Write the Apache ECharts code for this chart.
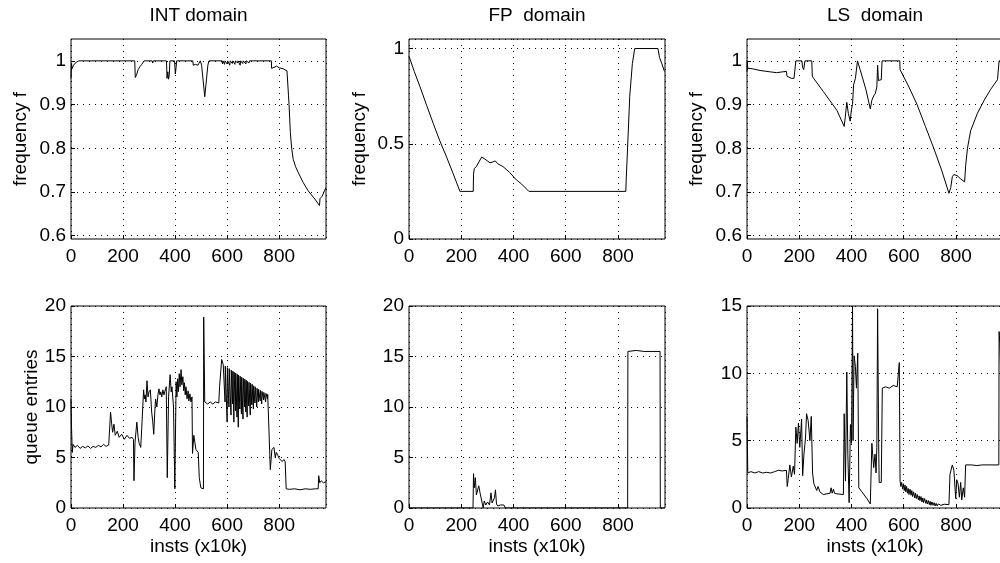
<!DOCTYPE html>
<html>
<head>
<meta charset="utf-8">
<script src="https://cdn.jsdelivr.net/npm/echarts@6/dist/echarts.min.js"></script>
<style>
html,body{margin:0;padding:0;background:#fff;}
#c{width:1000px;height:563px;}
</style>
</head>
<body>
<div id="c"></div>
<script>
// ---------- titles / labels ----------
const panelTitles = ['INT domain', 'FP  domain', 'LS  domain'];
const freqName = 'frequency f';
const queueName = 'queue entries';
const xName = 'insts (x10k)';
const freqTicksA = [0.6, 0.7, 0.8, 0.9, 1];

// ---------- data: [insts (x10k), value] ----------
const intFreq = [[0,0.96],[2,0.995],[4,0.982],[10,0.99],[20,0.997],[30,1.0],[245,1.0],[247,0.962],[252,0.968],[258,0.98],[265,0.987],[272,0.992],[281,1.0],[300,1.0],[302,0.996],[304,1.0],[312,1.0],[314,0.995],[316,1.0],[330,1.0],[332,0.996],[334,1.0],[367,1.0],[369,0.96],[372,0.975],[375,0.958],[378,0.97],[380,1.0],[398,1.0],[401,0.97],[404,0.985],[406,1.0],[468,1.0],[470,0.99],[478,0.992],[485,0.993],[488,0.99],[492,0.995],[497,1.0],[502,0.99],[514,0.918],[526,0.99],[530,1.0],[580,1.0],[582,0.993],[584,1.0],[590,0.992],[592,1.0],[600,0.993],[602,1.0],[610,0.99],[612,1.0],[620,0.994],[622,1.0],[630,0.992],[632,1.0],[640,0.995],[642,1.0],[650,0.99],[652,1.0],[660,0.994],[662,1.0],[672,0.993],[674,1.0],[684,0.995],[686,1.0],[700,1.0],[770,1.0],[771,0.983],[780,0.985],[790,0.988],[800,0.984],[815,0.982],[830,0.977],[834,0.975],[836,0.92],[838,0.90],[843,0.836],[848,0.80],[854,0.775],[863,0.758],[873,0.745],[892,0.722],[911,0.703],[937,0.684],[955,0.669],[957,0.685],[965,0.69],[972,0.70],[980,0.71]];

const fpFreq = [[0,0.96],[20,0.88],[42,0.80],[68,0.70],[93,0.606],[118,0.515],[144,0.43],[169,0.343],[195,0.25],[246,0.25],[247,0.34],[250,0.37],[258,0.38],[265,0.39],[272,0.415],[278,0.43],[290,0.42],[300,0.41],[310,0.40],[316,0.41],[322,0.405],[330,0.41],[340,0.395],[360,0.38],[385,0.35],[411,0.31],[430,0.29],[459,0.25],[830,0.25],[832,0.33],[835,0.42],[845,0.75],[855,0.92],[864,1.0],[953,1.0],[959,0.953],[968,0.92],[978,0.88]];

const lsFreq = [[0,0.975],[1,1.0],[3,0.983],[20,0.982],[50,0.978],[87,0.975],[113,0.973],[151,0.976],[153,0.965],[160,0.963],[170,0.96],[180,0.96],[185,0.958],[187,1.0],[210,1.0],[213,0.985],[217,0.98],[222,1.0],[248,1.0],[250,0.965],[255,0.96],[292,0.93],[344,0.887],[372,0.85],[376,0.87],[382,0.905],[388,0.88],[395,0.862],[400,0.89],[404,0.90],[408,0.945],[415,0.96],[423,1.0],[433,0.98],[455,0.935],[472,0.89],[478,0.91],[485,0.92],[491,0.925],[497,0.94],[500,0.99],[503,0.955],[514,0.957],[517,1.0],[585,1.0],[586,0.98],[620,0.94],[651,0.9],[683,0.85],[715,0.8],[745,0.75],[773,0.697],[780,0.71],[786,0.735],[792,0.74],[805,0.737],[818,0.73],[833,0.723],[837,0.76],[844,0.80],[856,0.84],[882,0.88],[908,0.91],[933,0.935],[959,0.957],[965,1.0],[980,1.0]];

const intQueue = [[0,10.8],[2,8],[5,5.5],[8,6.3],[15,6.0],[25,6.2],[35,5.9],[45,6.1],[55,5.95],[65,6.15],[75,5.9],[85,6.1],[95,6.0],[105,6.2],[115,6.05],[125,6.3],[135,6.1],[145,6.25],[150,6.2],[152,9.5],[156,8.4],[160,7.5],[165,8.3],[170,7.2],[178,7.6],[185,7.0],[195,7.3],[205,6.8],[215,7.2],[225,6.9],[235,7.0],[240,6.8],[242,2.7],[246,6.5],[253,8.5],[258,7.0],[262,6.4],[268,6.0],[272,8.0],[279,11.7],[282,10.8],[285,11.2],[288,10.5],[292,12.6],[296,11.0],[300,11.5],[305,11.7],[310,9.5],[314,8.6],[318,7.3],[322,9.5],[325,10.8],[330,10.0],[334,11.2],[338,11.8],[342,11.2],[345,11.5],[349,11.0],[353,11.7],[357,11.2],[360,11.5],[366,12.0],[370,3.0],[375,11.0],[381,13.2],[385,11.5],[388,12.0],[394,10.0],[399,1.9],[404,12.5],[407,11.0],[410,12.8],[413,11.5],[416,13.3],[419,12.0],[423,13.7],[426,12.2],[430,13.0],[433,11.6],[436,12.4],[439,11.2],[442,12.0],[446,10.8],[450,11.6],[453,10.6],[457,11.3],[461,10.5],[465,11.0],[467,5.4],[472,7.2],[480,5.8],[489,5.5],[493,3.0],[499,2.0],[509,1.9],[510,18.9],[514,10.5],[525,10.3],[535,10.5],[545,10.3],[555,10.5],[568,10.4],[571,12.0],[579,14.7],[585,14.2],[591,14.1],[592,10.5],[593,14.05],[599,13.95],[600,8.5],[601,13.9],[606,13.85],[607,10.0],[608,13.8],[614,13.7],[615,9.2],[616,13.65],[620,13.6],[621,10.3],[622,13.55],[625,13.5],[626,8.5],[627,13.45],[631,13.4],[632,9.6],[633,13.35],[637,13.3],[638,9.0],[639,13.25],[642,13.2],[643,8.0],[644,13.15],[648,13.1],[649,9.8],[650,13.05],[654,13.0],[655,9.3],[656,12.95],[660,12.9],[661,8.8],[662,12.85],[666,12.8],[667,10.0],[668,12.75],[671,12.7],[672,9.5],[673,12.65],[676,12.6],[677,9.0],[678,12.55],[682,12.5],[683,10.1],[684,12.45],[688,12.4],[689,9.2],[690,12.35],[694,12.3],[695,10.2],[696,12.25],[700,12.2],[701,9.8],[702,12.1],[706,12.05],[707,10.4],[708,12.0],[713,11.9],[714,10.0],[715,11.85],[719,11.8],[720,10.5],[721,11.75],[726,11.7],[727,10.6],[728,11.65],[732,11.6],[733,10.3],[734,11.55],[739,11.5],[740,10.7],[741,11.45],[747,11.4],[748,10.5],[749,11.35],[754,11.3],[755,10.8],[756,11.25],[763,11.1],[766,3.8],[772,5.8],[780,6.0],[785,5.0],[789,5.5],[795,5.2],[800,4.9],[806,5.0],[812,4.6],[818,4.8],[823,4.6],[827,1.9],[840,1.85],[860,1.9],[880,1.8],[900,1.9],[920,1.85],[940,1.9],[950,1.9],[952,3.2],[956,2.5],[962,2.7],[970,2.5],[980,2.6]];

const fpQueue = [[0,0],[245,0],[247,3.4],[250,2.0],[254,3.0],[258,1.3],[267,2.2],[272,1.5],[280,0.5],[284,0],[288,0.7],[294,0.3],[301,0.6],[308,0.3],[314,1.5],[318,0.5],[327,1.0],[331,1.8],[335,0.4],[340,0.2],[350,0.3],[356,0.2],[363,0.3],[369,0],[837,0],[838,15.5],[870,15.6],[900,15.5],[930,15.5],[961,15.5],[962,0],[980,0]];

const lsQueue = [[0,6.8],[3,2.6],[15,2.7],[30,2.6],[45,2.7],[60,2.6],[75,2.65],[90,2.6],[106,2.7],[120,2.8],[135,2.75],[151,2.8],[154,1.6],[158,2.2],[164,3.2],[170,2.3],[177,3.1],[182,2.5],[187,6.0],[192,4.8],[197,6.3],[202,4.5],[209,6.6],[213,2.4],[218,4.0],[224,5.2],[228,7.0],[234,6.5],[241,5.0],[246,6.8],[251,2.6],[256,1.8],[267,1.3],[272,1.6],[279,1.2],[292,1.0],[318,1.1],[322,1.5],[326,1.1],[331,1.4],[335,1.1],[344,1.05],[369,1.0],[372,7.0],[377,2.0],[382,10.1],[386,4.0],[391,0.4],[396,6.2],[400,4.8],[404,15],[406,5],[410,11.3],[415,10.5],[419,8.9],[424,11.5],[428,1.5],[440,1.2],[459,0.7],[472,0.3],[474,0.2],[478,4.8],[485,3.0],[490,4.0],[494,2.6],[497,4.5],[500,14.8],[504,4.8],[506,1.9],[514,1.9],[518,8.9],[530,9.0],[545,8.9],[560,9.1],[575,9.0],[581,9.1],[583,10.8],[586,2.0],[589,1.6],[592,1.9],[596,1.4],[599,1.8],[602,1.3],[605,1.7],[608,1.2],[611,1.6],[614,1.1],[617,1.45],[620,1.0],[624,1.4],[628,0.95],[631,1.3],[634,0.85],[638,1.2],[642,0.75],[645,1.1],[648,0.7],[652,1.0],[656,0.6],[659,0.9],[662,0.55],[666,0.85],[670,0.45],[673,0.75],[676,0.4],[680,0.7],[684,0.35],[687,0.6],[690,0.3],[694,0.55],[698,0.25],[701,0.5],[704,0.2],[708,0.45],[712,0.2],[716,0.4],[720,0.15],[724,0.35],[728,0.15],[732,0.3],[742,0.2],[755,0.28],[773,0.25],[777,2.5],[786,3.2],[792,2.8],[799,0.7],[803,2.1],[808,1.8],[813,0.8],[818,1.9],[822,0.6],[828,1.5],[833,0.8],[837,3.2],[860,3.2],[880,3.15],[900,3.2],[930,3.2],[964,3.2],[965,13.1],[968,12.2],[972,9.7],[980,9.5]];

// ---------- layout ----------
const FONT = '"Liberation Sans", Arial, Helvetica, sans-serif';
const FS = 19;
const lefts = [71, 409, 747];
const widths = [255, 256, 256];
const tops = [39, 306];
const heights = [200, 202];

const panels = [
  {row:0, col:0, data:intFreq, ymin:0.5925, ymax:1.05, custom:freqTicksA, name:freqName, gap:41},
  {row:0, col:1, data:fpFreq,  ymin:0, ymax:1.05, interval:0.5, showMax:false, name:freqName, gap:40},
  {row:0, col:2, data:lsFreq,  ymin:0.5925, ymax:1.05, custom:freqTicksA, name:freqName, gap:41},
  {row:1, col:0, data:intQueue, ymin:0, ymax:20, interval:5, showMax:true, name:queueName, gap:29},
  {row:1, col:1, data:fpQueue,  ymin:0, ymax:20, interval:5, showMax:true, name:'', gap:29},
  {row:1, col:2, data:lsQueue,  ymin:0, ymax:15, interval:5, showMax:true, name:'', gap:29}
];

const grids = [], xAxes = [], yAxes = [], series = [], graphics = [];
const dotted = {color:'#000', width:1, type:[1,5]};
const lblStyle = {fontSize:FS, fontFamily:FONT, color:'#000'};

panels.forEach((p, i) => {
  grids.push({
    left: lefts[p.col], top: tops[p.row], width: widths[p.col], height: heights[p.row],
    show: true, borderColor: '#000', borderWidth: 1, containLabel: false, outerBoundsMode: 'none'
  });
  xAxes.push({
    type:'value', gridIndex:i, min:0, max:980, interval:200,
    axisLine:{show:false},
    axisTick:{show:true, inside:true, length:4, lineStyle:{color:'#000'}},
    axisLabel:Object.assign({margin:8, showMaxLabel:false, hideOverlap:false}, lblStyle),
    splitLine:{show:true, lineStyle:dotted},
    name: p.row === 1 ? xName : '', nameLocation:'middle', nameGap:29,
    nameTextStyle: lblStyle
  });
  const y = {
    type:'value', gridIndex:i, min:p.ymin, max:p.ymax,
    axisLine:{show:false},
    axisTick:{show:true, inside:true, length:4, lineStyle:{color:'#000'}},
    axisLabel:Object.assign({margin:5, hideOverlap:false}, lblStyle),
    splitLine:{show:true, lineStyle:dotted},
    name:p.name, nameLocation:'middle', nameGap:p.gap, nameTextStyle:lblStyle
  };
  if (p.custom) {
    y.axisTick.customValues = p.custom;
    y.axisLabel.customValues = p.custom;
  } else {
    y.interval = p.interval;
    y.axisLabel.showMaxLabel = p.showMax;
  }
  yAxes.push(y);
  series.push({
    type:'line', xAxisIndex:i, yAxisIndex:i, data:p.data,
    showSymbol:false, symbol:'none', silent:true, clip:true,
    lineStyle:{color:'#000', width:1}
  });
  if (p.row === 0) {
    graphics.push({
      type:'text', x: lefts[p.col] + widths[p.col] / 2, y: 16,
      style:{text: panelTitles[p.col], font: FS + 'px ' + FONT, fill:'#000', textAlign:'center', textVerticalAlign:'middle'}
    });
  }
});

const chart = echarts.init(document.getElementById('c'), null, {renderer:'canvas'});
chart.setOption({
  animation:false,
  backgroundColor:'#fff',
  grid:grids, xAxis:xAxes, yAxis:yAxes, series:series,
  graphic:graphics
});
</script>
</body>
</html>
